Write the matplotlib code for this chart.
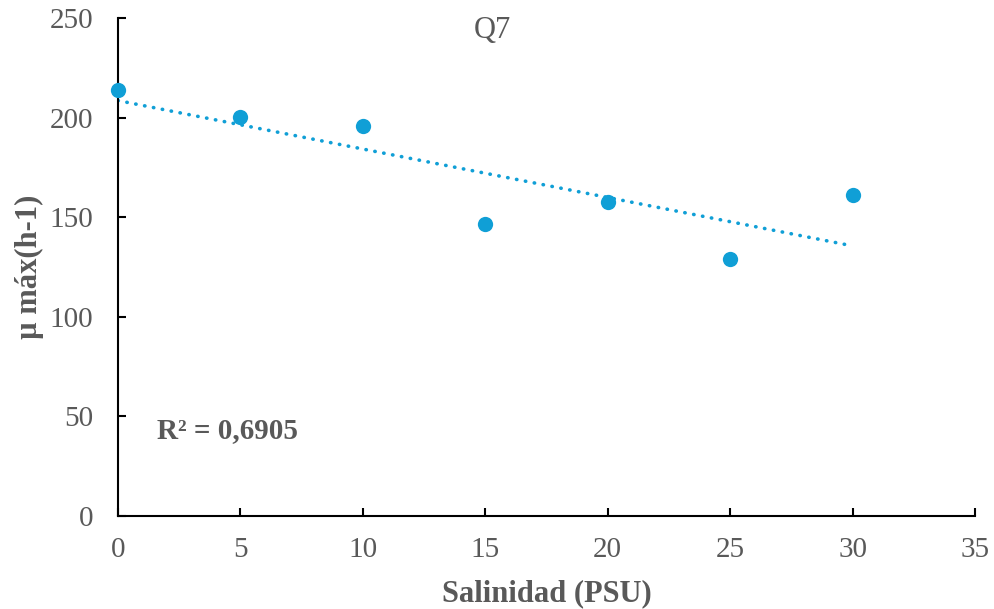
import matplotlib
matplotlib.use("Agg")
import matplotlib.pyplot as plt
import numpy as np

salinidad = [0, 5, 10, 15, 20, 25, 30]
mu_max = [214, 200.5, 196, 146.5, 157.5, 129, 161]
x_ticks = [0, 5, 10, 15, 20, 25, 30, 35]
y_ticks = [0, 50, 100, 150, 200, 250]
title = "Q7"
r2_text = "R² = 0,6905"

plt.rcParams['font.family'] = ['Liberation Serif', 'DejaVu Serif']
grey = '#595959'
blue = '#109FD6'

fig = plt.figure(figsize=(9.94, 6.09), dpi=100)
ax = fig.add_axes([118/994, 1-516/609, (975-118)/994, (516-18)/609])

ax.scatter(salinidad, mu_max, s=11**2, color=blue, zorder=3, linewidths=0, clip_on=False)
coef = np.polyfit(salinidad, mu_max, 1)
xs = np.array([min(salinidad), max(salinidad)])
ax.plot(xs, np.polyval(coef, xs), color=blue, lw=2.6, linestyle=(0, (0.1, 2.4)),
        dash_capstyle='round', zorder=2)

ax.set_xlim(0, 35)
ax.set_ylim(0, 250)
ax.set_xticks(x_ticks)
ax.set_yticks(y_ticks)
for s in ['top', 'right']:
    ax.spines[s].set_visible(False)
for s in ['left', 'bottom']:
    ax.spines[s].set_linewidth(1.5)
    ax.spines[s].set_color('black')
ax.tick_params(direction='in', length=6, width=1.5, labelsize=21, colors='black')
ax.tick_params(axis='x', pad=15)
ax.tick_params(axis='y', pad=18)
for lab in ax.get_xticklabels() + ax.get_yticklabels():
    lab.set_color(grey)

ax.set_xlabel("Salinidad (PSU)", fontsize=22, fontweight='bold', color=grey, labelpad=12)
ax.set_ylabel("µ máx(h-1)", fontsize=22, fontweight='bold', color=grey, labelpad=4)
ax.text(0.437, 0.975, title, transform=ax.transAxes, ha='center', va='center', fontsize=22, color=grey)
ax.text(1.6, 43, r2_text, ha='left', va='center', fontsize=21, fontweight='bold', color=grey)

fig.savefig("out.png", dpi=100)
